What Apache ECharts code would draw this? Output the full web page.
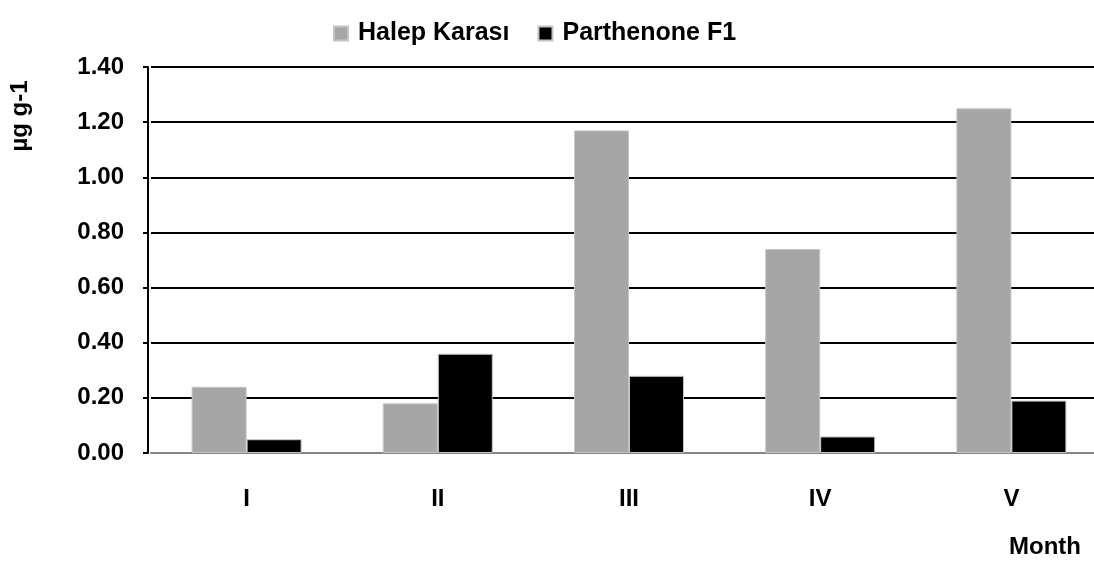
<!DOCTYPE html>
<html>
<head>
<meta charset="utf-8">
<script src="https://cdn.jsdelivr.net/npm/echarts@6/dist/echarts.min.js"></script>
<style>
  html, body { margin: 0; padding: 0; background: #fff; }
  #chart { width: 1094px; height: 573px; }
</style>
</head>
<body>
<div id="chart"></div>
<script>
const months = ['I', 'II', 'III', 'IV', 'V']
const halepKarasi = [0.24, 0.18, 1.17, 0.74, 1.25]
const parthenoneF1 = [0.05, 0.36, 0.28, 0.06, 0.19]

const font = "'Liberation Sans', Arial, sans-serif"
const chart = echarts.init(document.getElementById('chart'))

const option = {
  animation: false,
  textStyle: { fontFamily: font },
  grid: { left: 151, width: 956, top: 67, height: 386, outerBoundsMode: 'none', containLabel: false },
  legend: {
    top: 16,
    left: 328,
    icon: 'rect',
    itemWidth: 14,
    itemHeight: 14,
    itemGap: 28,
    textStyle: {
      fontFamily: font, fontSize: 25, fontWeight: 'bold', color: '#000',
      padding: [0, 0, 0, 5]
    },
    data: ['Halep Karası', 'Parthenone F1']
  },
  xAxis: {
    type: 'category',
    data: months,
    axisLine: { lineStyle: { color: '#858585', width: 2 } },
    axisTick: { show: false },
    axisLabel: { margin: 34, fontSize: 24, fontWeight: 'bold', color: '#000', fontFamily: font }
  },
  yAxis: {
    type: 'value',
    min: 0,
    max: 1.4,
    interval: 0.2,
    offset: 3,
    axisLine: { show: true, lineStyle: { color: '#000', width: 2 } },
    axisTick: { show: true, length: 5, lineStyle: { color: '#000', width: 2 } },
    axisLabel: {
      margin: 24, fontSize: 24, fontWeight: 'bold', color: '#000', fontFamily: font,
      formatter: v => v.toFixed(2)
    },
    splitLine: { show: true, showMinLine: false, lineStyle: { color: '#000', width: 2 } }
  },
  series: [
    {
      name: 'Halep Karası',
      type: 'bar',
      data: halepKarasi,
      barWidth: 55,
      barGap: '0%',
      itemStyle: { color: '#a6a6a6', borderColor: '#c4c4c4', borderWidth: 1 }
    },
    {
      name: 'Parthenone F1',
      type: 'bar',
      data: parthenoneF1,
      barWidth: 55,
      barGap: '0%',
      itemStyle: { color: '#000', borderColor: '#c4c4c4', borderWidth: 1 }
    }
  ],
  graphic: [
    {
      type: 'text',
      x: 20,
      y: 116,
      rotation: Math.PI / 2,
      style: {
        text: 'µg g-1', fontFamily: font, fontSize: 24, fontWeight: 'bold', fill: '#000',
        align: 'center', verticalAlign: 'middle'
      }
    },
    {
      type: 'text',
      x: 1081,
      y: 547,
      style: {
        text: 'Month', fontFamily: font, fontSize: 24, fontWeight: 'bold', fill: '#000',
        align: 'right', verticalAlign: 'middle'
      }
    }
  ]
}

chart.setOption(option)
</script>
</body>
</html>
